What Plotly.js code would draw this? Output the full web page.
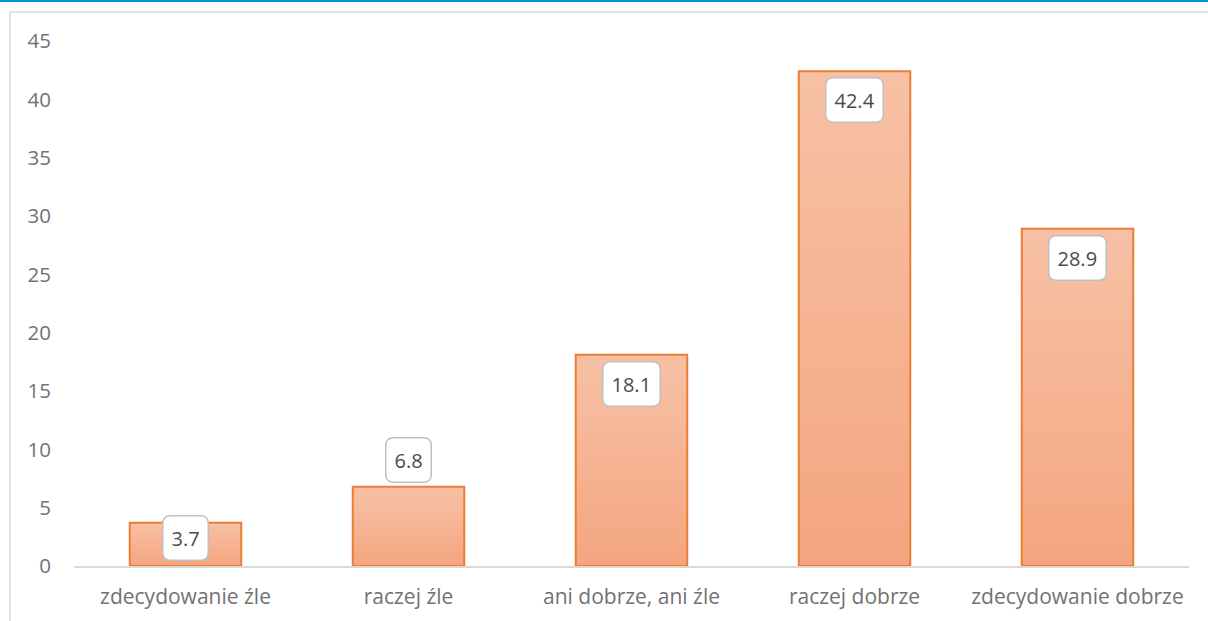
<!DOCTYPE html>
<html>
<head>
<meta charset="utf-8">
<script src="https://cdn.plot.ly/plotly-3.0.1.min.js"></script>
<style>
html, body { margin: 0; padding: 0; background: #ffffff; }
#chart { width: 1208px; height: 621px; }
</style>
</head>
<body>
<div id="chart"></div>
<script>
const categories = ["zdecydowanie źle", "raczej źle", "ani dobrze, ani źle", "raczej dobrze", "zdecydowanie dobrze"];
const values = [3.7, 6.8, 18.1, 42.4, 28.9];
const yTickValues = [0, 5, 10, 15, 20, 25, 30, 35, 40, 45];

const W = 1208, H = 621;
const M = { l: 74, r: 19, t: 41, b: 55 };
const plotW = W - M.l - M.r, plotH = H - M.t - M.b;
const yMax = 45;
const pxPerUnit = plotH / yMax;

function px2paperX(px) { return (px - M.l) / plotW; }
function px2paperY(py) { return (H - M.b - py) / plotH; }

const FONT = "Open Sans, sans-serif";
const labelFont = { family: FONT, size: 20, color: "#4a4a4a" };
const xTickFont = { family: FONT, size: 21, color: "#727272" };
const yTickFont = { family: FONT, size: 20.5, color: "#727272" };

// label placement (Excel-like "inside end", small bars handled like the reference)
function labelShift(v) {
  const h = v * pxPerUnit;
  if (h > 100) return -29;
  if (h > 60) return 27;
  return -15;
}

const annotations = values.map((v, i) => ({
  x: categories[i], y: v, xref: "x", yref: "y",
  text: v.toFixed(1), showarrow: false,
  yshift: labelShift(v),
  font: labelFont,
  bgcolor: "#ffffff", bordercolor: "#bfbfbf", borderwidth: 1.5, borderpad: 8
}));

const trace = {
  type: "bar", x: categories, y: values,
  marker: { color: "#F5B08E", line: { color: "#ED7D31", width: 2 } },
  hoverinfo: "none"
};

const layout = {
  width: W, height: H,
  margin: M,
  paper_bgcolor: "#ffffff", plot_bgcolor: "#ffffff",
  showlegend: false,
  bargap: 0.5,
  font: { family: FONT, size: 20, color: "#727272" },
  xaxis: {
    type: "category", showgrid: false, zeroline: false,
    showline: true, linecolor: "#d9d9d9", linewidth: 1.5,
    ticks: "", ticklabelstandoff: 11,
    tickfont: xTickFont
  },
  yaxis: {
    range: [0, yMax], tickvals: yTickValues, ticktext: yTickValues.map(String),
    showgrid: false, zeroline: false, showline: false, ticks: "",
    ticklabelstandoff: 22,
    tickfont: yTickFont
  },
  annotations: annotations,
  shapes: [
    { type: "line", xref: "paper", yref: "paper",
      x0: px2paperX(-5), x1: px2paperX(W + 5), y0: px2paperY(1), y1: px2paperY(1),
      line: { color: "#0091D5", width: 2 } },
    { type: "rect", xref: "paper", yref: "paper",
      x0: px2paperX(10), x1: px2paperX(W + 10), y0: px2paperY(H + 10), y1: px2paperY(12),
      line: { color: "#d9d9d9", width: 1.5 }, fillcolor: "rgba(0,0,0,0)", layer: "below" }
  ]
};

Plotly.newPlot("chart", [trace], layout, { displayModeBar: false, staticPlot: true }).then(function (gd) {
  const svg = gd.querySelector("svg.main-svg");
  const ns = "http://www.w3.org/2000/svg";
  let defs = svg.querySelector("defs");
  if (!defs) { defs = document.createElementNS(ns, "defs"); svg.insertBefore(defs, svg.firstChild); }
  const grad = document.createElementNS(ns, "linearGradient");
  grad.setAttribute("id", "barGrad");
  grad.setAttribute("x1", "0"); grad.setAttribute("y1", "0");
  grad.setAttribute("x2", "0"); grad.setAttribute("y2", "1");
  [["0", "#F7C1A6"], ["1", "#F4A57F"]].forEach(function (s) {
    const st = document.createElementNS(ns, "stop");
    st.setAttribute("offset", s[0]); st.setAttribute("stop-color", s[1]);
    grad.appendChild(st);
  });
  defs.appendChild(grad);
  gd.querySelectorAll(".bars .point path").forEach(function (p) {
    p.style.fill = "url(#barGrad)";
  });
  gd.querySelectorAll(".annotation rect.bg").forEach(function (r) {
    r.setAttribute("rx", "7"); r.setAttribute("ry", "7");
  });
});
</script>
</body>
</html>
